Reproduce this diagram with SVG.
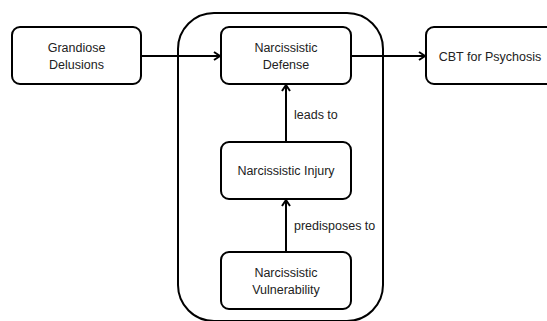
<svg xmlns="http://www.w3.org/2000/svg" width="547" height="321" viewBox="0 0 547 321">
<style>
.box{fill:#fff;stroke:#000;stroke-width:2}
.cont{fill:none;stroke:#000;stroke-width:2}
.t{font-family:"Liberation Sans",Arial,sans-serif;font-size:12.5px;fill:#222;text-anchor:middle}
.l{font-family:"Liberation Sans",Arial,sans-serif;font-size:12.5px;fill:#222}
.c{stroke:#000;stroke-width:2;fill:none;marker-end:url(#ah)}
</style>
<defs>
<marker id="ah" markerWidth="10" markerHeight="10" refX="8" refY="5" orient="auto" markerUnits="userSpaceOnUse">
<path d="M2,1 L8,5 L2,9" fill="none" stroke="#000" stroke-width="2"/>
</marker>
</defs>
<g id="container"><rect class="cont" x="178" y="13" width="205" height="308" rx="36"/></g>
<g id="connectors">
<line class="c" x1="141" y1="56" x2="220" y2="56"/>
<line class="c" x1="351" y1="56" x2="425" y2="56"/>
<line class="c" x1="286" y1="142" x2="286" y2="85"/>
<line class="c" x1="286" y1="252" x2="286" y2="200"/>
<text class="l" x="294" y="119">leads to</text>
<text class="l" x="294" y="230">predisposes to</text>
</g>
<g id="grandiose"><rect class="box" x="12" y="27" width="129" height="57" rx="8"/><text class="t" x="76.5" y="52">Grandiose</text><text class="t" x="76.5" y="69">Delusions</text></g>
<g id="defense"><rect class="box" x="221" y="27" width="130" height="57" rx="8"/><text class="t" x="286" y="52">Narcissistic</text><text class="t" x="286" y="69">Defense</text></g>
<g id="cbt"><rect class="box" x="426" y="27" width="130" height="57" rx="8"/><text class="t" x="490" y="60.5">CBT for Psychosis</text></g>
<g id="injury"><rect class="box" x="221" y="142" width="130" height="57" rx="8"/><text class="t" x="286" y="175">Narcissistic Injury</text></g>
<g id="vulnerability"><rect class="box" x="221" y="252" width="130" height="57" rx="8"/><text class="t" x="286" y="277">Narcissistic</text><text class="t" x="286" y="294">Vulnerability</text></g>
</svg>
